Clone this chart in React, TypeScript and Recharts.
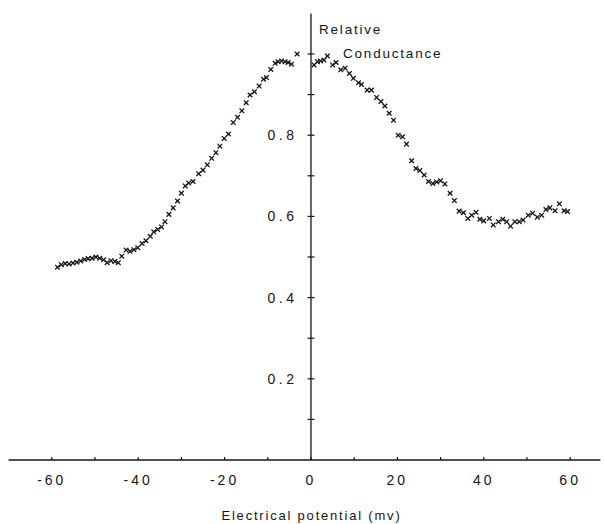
import React from "react";
import {
  ScatterChart,
  Scatter,
  XAxis,
  YAxis,
  ReferenceLine,
} from "recharts";

// membrane potential (mV) and relative conductance
const potential = [
  -58.7, -57.8, -56.9, -56.0, -55.1, -54.2, -53.3, -52.4, -51.6, -50.7,
  -49.8, -48.9, -48.0, -47.2, -46.3, -45.4, -44.6, -43.8, -42.8, -41.9,
  -41.0, -40.1, -39.1, -38.2, -37.2, -36.4, -35.5, -34.6, -33.8, -32.9,
  -31.9, -30.9, -30.0, -29.1, -28.3, -27.3, -26.0, -25.0, -24.0, -23.0,
  -22.0, -21.1, -20.1, -19.1, -18.0, -17.0, -16.0, -15.0, -14.1, -13.1,
  -12.0, -11.0, -10.3, -9.3, -8.3, -7.6, -6.8, -6.0, -5.3, -4.5, -3.2,
  0.7, 1.5, 2.2, 3.0, 3.8, 5.0, 5.8, 6.9, 7.9, 8.9,
  9.8, 11.0, 11.7, 13.0, 14.0, 15.2, 16.2, 17.1, 18.1, 19.1,
  20.2, 21.2, 22.1, 23.3, 24.3, 25.2, 26.2, 27.2, 28.2, 29.1,
  30.0, 31.0, 32.2, 33.2, 34.3, 35.3, 36.3, 37.2, 38.2, 39.1,
  40.0, 41.3, 42.2, 43.4, 44.4, 45.3, 46.2, 47.2, 48.2, 49.1,
  50.3, 51.3, 52.4, 53.4, 54.4, 55.3, 56.5, 57.5, 58.6, 59.4,
];

const conductance = [
  0.475, 0.481, 0.484, 0.483, 0.485, 0.487, 0.49, 0.494, 0.496, 0.497,
  0.5, 0.497, 0.493, 0.486, 0.491, 0.489, 0.486, 0.502, 0.517, 0.514,
  0.518, 0.523, 0.533, 0.54, 0.551, 0.562, 0.568, 0.574, 0.587, 0.605,
  0.621, 0.638, 0.657, 0.675, 0.682, 0.686, 0.705, 0.714, 0.727, 0.743,
  0.757, 0.773, 0.792, 0.803, 0.831, 0.844, 0.86, 0.88, 0.899, 0.907,
  0.921, 0.938, 0.942, 0.962, 0.977, 0.981, 0.983, 0.981, 0.979, 0.975, 1.0,
  0.973, 0.981, 0.983, 0.985, 0.995, 0.973, 0.979, 0.961, 0.965, 0.952,
  0.94, 0.929, 0.925, 0.911, 0.911, 0.893, 0.883, 0.872, 0.854, 0.837,
  0.8, 0.796, 0.778, 0.737, 0.718, 0.713, 0.702, 0.686, 0.681, 0.685,
  0.688, 0.68, 0.657, 0.639, 0.613, 0.609, 0.595, 0.603, 0.61, 0.593,
  0.589, 0.595, 0.579, 0.587, 0.593, 0.587, 0.576, 0.587, 0.587, 0.591,
  0.603, 0.608, 0.598, 0.603, 0.617, 0.621, 0.614, 0.631, 0.614, 0.612,
];

const xTicks = [-60, -50, -40, -30, -20, -10, 0, 10, 20, 30, 40, 50, 60];
const yTicks = [0.1, 0.2, 0.3, 0.4, 0.5, 0.6, 0.7, 0.8, 0.9, 1.0];
const yLabelled = [0.2, 0.4, 0.6, 0.8];

const xTitle = "Electrical potential (mv)";
const yTitle = ["Relative", "Conductance"];

const data = potential.map((x, i) => ({ x, y: conductance[i] }));

const ink = "#151515";
const font = "'Liberation Sans', Arial, sans-serif";

function Cross(props: any) {
  const { cx, cy } = props;
  const s = 2.3;
  return (
    <g stroke={ink} strokeWidth={1.3}>
      <line x1={cx - s} y1={cy - s} x2={cx + s} y2={cy + s} />
      <line x1={cx - s} y1={cy + s} x2={cx + s} y2={cy - s} />
    </g>
  );
}

function XTick(props: any) {
  const { x, y, payload } = props;
  const v = payload.value;
  return (
    <g>
      <line x1={x} x2={x} y1={y - 3} y2={y} stroke={ink} strokeWidth={1.2} />
      {v % 20 === 0 && (
        <text
          x={x}
          y={y + 25}
          textAnchor="middle"
          fontFamily={font}
          fontSize={14}
          letterSpacing={3}
          fill={ink}
        >
          {String(v)}
        </text>
      )}
    </g>
  );
}

function AxisTitle(props: any) {
  const { viewBox } = props;
  const x = viewBox.x;
  const top = viewBox.y;
  return (
    <g fontFamily={font} fontSize={13.5} letterSpacing={1.8} fill={ink}>
      <text x={x + 8} y={top + 21}>
        {yTitle[0]}
      </text>
      <text x={x + 32} y={top + 45}>
        {yTitle[1]}
      </text>
    </g>
  );
}

export default function App() {
  return (
    <div style={{ position: "absolute", left: 0, top: 0, background: "#fff" }}>
      <ScatterChart
        width={604}
        height={524}
        margin={{ top: 13.4, right: 3.6, bottom: 0, left: 8.6 }}
      >
        <XAxis
          type="number"
          dataKey="x"
          domain={[-70, 67]}
          ticks={xTicks}
          interval={0}
          allowDataOverflow
          tickLine={false}
          tickSize={0}
          tickMargin={0}
          tick={<XTick />}
          axisLine={{ stroke: ink, strokeWidth: 1.3 }}
          height={64}
          label={{
            value: xTitle,
            position: "insideBottom",
            offset: 4,
            dx: 7,
            fontFamily: font,
            fontSize: 13,
            letterSpacing: 1.8,
            fill: ink,
          }}
        />
        <YAxis type="number" dataKey="y" domain={[0, 1.1]} hide />
        <ReferenceLine
          x={0}
          stroke={ink}
          strokeWidth={1.3}
          label={<AxisTitle />}
        />
        {yTicks.map((v) => (
          <ReferenceLine
            key={v}
            segment={[
              { x: -0.8, y: v },
              { x: 0.8, y: v },
            ]}
            stroke={ink}
            strokeWidth={1.2}
            label={
              yLabelled.includes(v)
                ? {
                    value: v.toFixed(1),
                    position: "left",
                    offset: 10,
                    fontFamily: font,
                    fontSize: 14,
                    letterSpacing: 3.5,
                    fill: ink,
                  }
                : undefined
            }
          />
        ))}
        <Scatter
          data={data}
          shape={<Cross />}
          isAnimationActive={false}
        />
      </ScatterChart>
    </div>
  );
}
